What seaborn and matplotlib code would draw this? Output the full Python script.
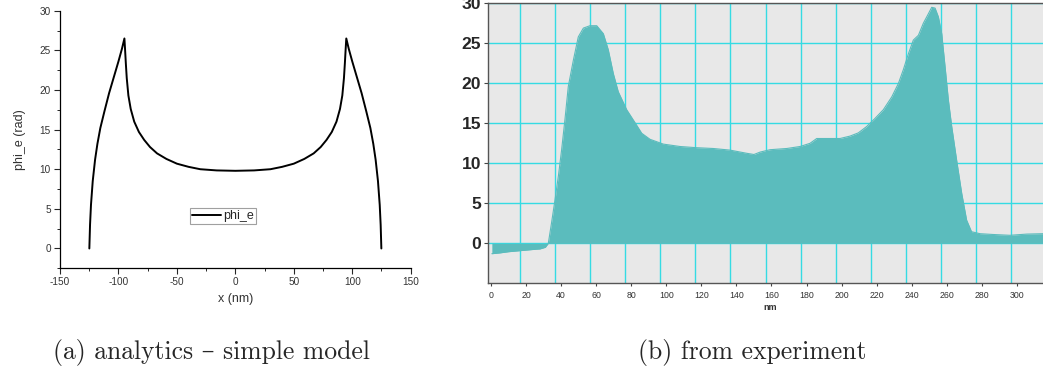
import numpy as np
import pandas as pd
import matplotlib
matplotlib.use("Agg")
import matplotlib.pyplot as plt
from matplotlib.ticker import MultipleLocator, FixedLocator
import seaborn as sns

# ---------------- data: (a) analytics - simple model ----------------
model_x = [-124.9, -124.3, -123.5, -122.0, -120.0, -118.0, -115.5, -112.0, -108.0, -104.0,
           -100.0, -97.0, -94.9,
           -94.3, -93.7, -92.9, -91.5, -89.5, -86.5, -82.5, -78.0, -73.0, -67.0, -59.0, -50.0,
           -40.0, -30.0, -16.0, 0.0,
           16.0, 30.0, 40.0, 50.0, 59.0, 67.0, 73.0, 78.0, 82.5, 86.5, 89.5, 91.5, 92.9, 93.7,
           94.3, 94.9,
           97.0, 100.0, 104.0, 108.0, 112.0, 115.5, 118.0, 120.0, 122.0, 123.5, 124.3, 124.9]
model_y = [0.0, 3.0, 5.5, 8.5, 11.2, 13.2, 15.2, 17.3, 19.6, 21.6,
           23.6, 25.2, 26.5,
           25.0, 23.4, 21.5, 19.3, 17.6, 16.0, 14.7, 13.7, 12.8, 12.0, 11.3, 10.7,
           10.3, 10.0, 9.85, 9.8,
           9.85, 10.0, 10.3, 10.7, 11.3, 12.0, 12.8, 13.7, 14.7, 16.0, 17.6, 19.3, 21.5, 23.4,
           25.0, 26.5,
           25.2, 23.6, 21.6, 19.6, 17.3, 15.2, 13.2, 11.2, 8.5, 5.5, 3.0, 0.0]

# ---------------- data: (b) from experiment ----------------
exp_x = [0.5, 5, 10, 15, 20, 25, 28, 31, 32.7, 34.5, 36.5, 38.5, 40.3, 42.2, 44.1, 47.0, 49.8,
         52.7, 56.5, 60.3, 64.1, 66.9, 69.8, 72.6, 77.4, 82.1, 86.0, 90.7, 98.3, 107.8, 117.3,
         126.8, 136.3, 145.9, 150.0, 153.5, 159.2, 168.7, 176.3, 182.0, 185.8, 191.5, 199.1,
         204.8, 209.5, 214.3, 219.0, 223.8, 228.6, 232.4, 235.2, 238.1, 240.9, 243.8, 246.6,
         249.5, 251.4, 253.3, 255.2, 257.1, 259.0, 260.9, 262.8, 265.6, 268.5, 271.3, 274.1,
         278.9, 286.5, 296.0, 305.6, 314.9, 320.0]
exp_y = [-1.3, -1.2, -1.05, -0.95, -0.85, -0.75, -0.7, -0.5, 0.0, 2.5, 5.4, 8.5, 11.7, 15.5,
         19.6, 22.9, 25.8, 26.9, 27.2, 27.2, 26.2, 24.2, 21.2, 18.95, 16.7, 15.1, 13.75, 13.0,
         12.4, 12.1, 11.95, 11.85, 11.65, 11.25, 11.1, 11.4, 11.7, 11.85, 12.1, 12.5, 13.1,
         13.1, 13.1, 13.4, 13.8, 14.6, 15.6, 16.7, 18.3, 19.99, 21.7, 23.7, 25.4, 26.0, 27.5,
         28.7, 29.5, 29.4, 28.3, 26.2, 22.1, 17.9, 14.6, 10.4, 6.25, 2.9, 1.45, 1.2, 1.1, 1.0,
         1.15, 1.2, 1.25]
exp_xticks = [0, 20, 40, 60, 80, 100, 120, 140, 160, 180, 200, 220, 240, 260, 280, 300]

model_df = pd.DataFrame({"x": model_x, "phi_e": model_y})
exp_df = pd.DataFrame({"nm": exp_x, "phi": exp_y})

sns.set_style("ticks")
plt.rcParams["font.family"] = ["Liberation Sans", "DejaVu Sans"]
plt.rcParams["axes.unicode_minus"] = False

W, H = 1043, 370
fig = plt.figure(figsize=(W / 100, H / 100), dpi=100)

# ---------------- left panel ----------------
axL = fig.add_axes([60 / W, 1 - 268.3 / H, 350.7 / W, (268.3 - 10.7) / H])
sns.lineplot(data=model_df, x="x", y="phi_e", ax=axL, color="black", linewidth=1.4,
             sort=False, estimator=None, label="phi_e")
axL.set_xlim(-150, 150)
axL.set_ylim(-2.5, 30)
axL.xaxis.set_major_locator(MultipleLocator(50))
axL.xaxis.set_minor_locator(MultipleLocator(25))
axL.yaxis.set_major_locator(MultipleLocator(5))
axL.yaxis.set_minor_locator(MultipleLocator(2.5))
for s in ["top", "right"]:
    axL.spines[s].set_visible(False)
for s in ["left", "bottom"]:
    axL.spines[s].set_linewidth(0.9)
    axL.spines[s].set_color("black")
axL.tick_params(which="major", direction="out", length=4, width=0.8, labelsize=7.2,
                labelcolor="#333333", pad=2.5)
axL.tick_params(which="minor", direction="out", length=2, width=0.7)
axL.set_xlabel("x (nm)", fontsize=9, color="#333333", labelpad=4)
axL.set_ylabel("phi_e (rad)", fontsize=9, color="#333333", labelpad=10)
leg = axL.legend(loc="center", bbox_to_anchor=(0.465, 0.203), fontsize=9, frameon=True,
                 fancybox=False, edgecolor="#888888", handlelength=2.3, handletextpad=0.2,
                 borderpad=0.15, borderaxespad=0)
leg.get_frame().set_linewidth(0.8)

# ---------------- right panel ----------------
axR = fig.add_axes([488 / W, 1 - 283.3 / H, 564 / W, (283.3 - 3.3) / H])
axR.set_facecolor("#e8e8e8")
teal = "#5bbcbd"
grid_c = "#35dbe3"
axR.fill_between(exp_df["nm"], 0, exp_df["phi"], color=teal, linewidth=0, zorder=3)
sns.lineplot(data=exp_df, x="nm", y="phi", ax=axR, color=teal, linewidth=0.8,
             estimator=None, zorder=3)
axR.set_xlim(-1.7, 320)
axR.set_ylim(-5, 30)
axR.xaxis.set_major_locator(FixedLocator(exp_xticks))
axR.xaxis.set_minor_locator(FixedLocator([t + 16.6 for t in exp_xticks]))
axR.yaxis.set_major_locator(FixedLocator([0, 5, 10, 15, 20, 25, 30]))
axR.grid(False)
axR.grid(True, which="minor", axis="x", color=grid_c, linewidth=1.0, zorder=1)
axR.grid(True, which="major", axis="y", color=grid_c, linewidth=1.0, zorder=1)
axR.set_axisbelow(True)
axR.tick_params(axis="x", which="minor", length=0)
axR.tick_params(axis="x", which="major", direction="out", length=2.5, width=0.8,
                labelsize=6.3, labelcolor="#333333", pad=3, color="#444444")
axR.tick_params(axis="y", which="major", direction="out", length=3, width=0.8,
                labelsize=12.6, pad=2, color="#444444")
for lab in axR.get_yticklabels():
    lab.set_fontweight("bold")
for s in ["left", "bottom", "top", "right"]:
    axR.spines[s].set_color("#555555")
    axR.spines[s].set_linewidth(1.0)
axR.set_xlabel("nm", fontsize=6.5, fontweight="bold", color="#333333", labelpad=2)
axR.set_ylabel("")

# ---------------- captions ----------------
cap_font = ["cmr10", "DejaVu Serif"]
fig.text(211.7 / W, 1 - 353 / H, "(a) analytics \u2013 simple model", ha="center", va="center",
         fontsize=18.5, family=cap_font)
fig.text(752 / W, 1 - 353 / H, "(b) from experiment", ha="center", va="center",
         fontsize=18.5, family=cap_font)

fig.savefig("out.png", dpi=100)
